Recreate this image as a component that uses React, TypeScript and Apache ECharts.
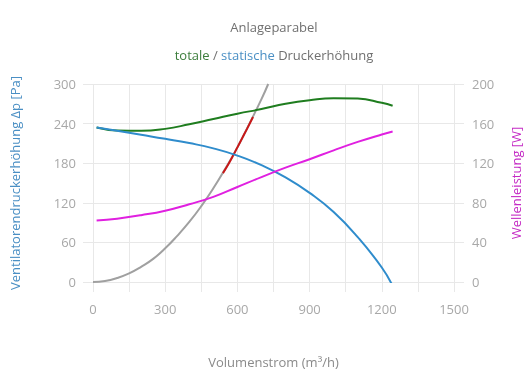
import React, { useEffect, useRef } from "react";
import * as echarts from "echarts";

const FONT = "'Open Sans', 'Noto Sans', sans-serif";

// Volumenstrom (m³/h)
const flowX = [15, 100, 200, 300, 400, 500, 600, 700, 800, 900, 1000, 1100, 1200, 1245];
// statische Druckerhöhung (Pa)
const staticY = [234, 229, 223, 217, 210.5, 202.5, 191.5, 177, 158.5, 135, 106, 68, 22, -6];
// totale Druckerhöhung (Pa)
const totalY = [234, 229.5, 229, 232, 239, 247, 255, 262, 270, 275.5, 278.5, 278, 271.5, 267];
// Wellenleistung (W)
const powerY = [62, 64, 67.5, 72, 78.5, 86, 96, 106, 115.5, 124, 133, 141.5, 149, 152];

// Anlageparabel
const systemX = [0, 50, 100, 150, 200, 250, 300, 350, 400, 450, 500, 550, 600, 650, 700, 728];
const systemY = [0, 1.5, 6, 13, 23, 35, 51, 70, 91, 115, 142, 172, 204, 240, 277, 300];

// Arbeitsbereich (rot)
const rangeX = [540, 560, 580, 600, 620, 640, 665];
const rangeY = [165, 177, 190, 204, 218, 232, 250];

const xTicks = [0, 300, 600, 900, 1200, 1500];

const pairs = (xs: number[], ys: number[]) => xs.map((x, i) => [x, ys[i]]);

export default function App() {
  const ref = useRef<HTMLDivElement>(null);
  useEffect(() => {
    if (!ref.current) return;
    const chart = echarts.init(ref.current, undefined, { renderer: "svg" });
    const grid = "#e8e8e8";
    const label = "#a8a8a8";
    const lineBase = {
      type: "line",
      smooth: 0.5,
      showSymbol: false,
    };
    chart.setOption({
      animation: false,
      textStyle: { fontFamily: FONT },
      graphic: [
        {
          type: "text",
          x: 274,
          y: 27,
          style: {
            text: "Anlageparabel",
            fill: "#707070",
            font: `13px ${FONT}`,
            align: "center",
            verticalAlign: "middle",
          },
        },
        {
          type: "text",
          x: 274,
          y: 55,
          style: {
            text: "{g|totale} / {b|statische} Druckerhöhung",
            fill: "#707070",
            font: `13px ${FONT}`,
            align: "center",
            verticalAlign: "middle",
            rich: {
              g: { fill: "#3c7d3c", font: `13px ${FONT}` },
              b: { fill: "#4a8fc4", font: `13px ${FONT}` },
            },
          },
        },
      ],
      grid: {
        left: 93,
        right: 76,
        top: 84,
        bottom: 108,
        containLabel: false,
        outerBoundsMode: "none",
      },
      xAxis: {
        type: "value",
        min: 0,
        max: 1500,
        interval: 150,
        name: "Volumenstrom (m³/h)",
        nameLocation: "middle",
        nameGap: 73,
        nameTextStyle: { color: "#8a8a8a", fontSize: 13, fontFamily: FONT },
        axisLine: { show: true, lineStyle: { color: grid } },
        axisTick: { show: true, length: 10, lineStyle: { color: grid } },
        splitLine: { show: true, lineStyle: { color: grid } },
        axisLabel: {
          color: label,
          fontSize: 13,
          margin: 20,
          fontFamily: FONT,
          formatter: (v: number) => (xTicks.includes(v) ? String(v) : ""),
        },
      },
      yAxis: [
        {
          type: "value",
          min: 0,
          max: 300,
          interval: 60,
          position: "left",
          name: "Ventilatorendruckerhöhung Δp [Pa]",
          nameLocation: "middle",
          nameRotate: 90,
          nameGap: 72,
          nameTextStyle: { color: "#4a8fc4", fontSize: 13, fontFamily: FONT },
          axisLine: { show: false },
          axisTick: { show: true, length: 10, lineStyle: { color: grid } },
          splitLine: { show: true, lineStyle: { color: grid } },
          axisLabel: { color: label, fontSize: 13, margin: 17, fontFamily: FONT },
        },
        {
          type: "value",
          min: 0,
          max: 200,
          interval: 40,
          position: "right",
          name: "Wellenleistung [W]",
          nameLocation: "middle",
          nameRotate: 90,
          nameGap: 55,
          nameTextStyle: { color: "#c42ac4", fontSize: 13, fontFamily: FONT },
          axisLine: { show: true, lineStyle: { color: grid } },
          axisTick: { show: true, length: 10, lineStyle: { color: grid } },
          splitLine: { show: false },
          axisLabel: { color: label, fontSize: 13, margin: 18, fontFamily: FONT },
        },
      ],
      series: [
        {
          ...lineBase,
          name: "Anlageparabel",
          data: pairs(systemX, systemY),
          lineStyle: { color: "#a0a0a0", width: 2 },
          z: 2,
        },
        {
          ...lineBase,
          name: "Arbeitsbereich",
          data: pairs(rangeX, rangeY),
          lineStyle: { color: "#c81818", width: 2 },
          z: 3,
        },
        {
          ...lineBase,
          name: "totale Druckerhöhung",
          data: pairs(flowX, totalY),
          lineStyle: { color: "#1f7d1f", width: 2 },
          z: 4,
        },
        {
          ...lineBase,
          name: "statische Druckerhöhung",
          data: pairs(flowX, staticY),
          lineStyle: { color: "#2f8ccc", width: 2 },
          z: 5,
        },
        {
          ...lineBase,
          name: "Wellenleistung",
          yAxisIndex: 1,
          data: pairs(flowX, powerY),
          lineStyle: { color: "#e020e0", width: 2 },
          z: 6,
        },
      ],
    });
    return () => chart.dispose();
  }, []);
  return (
    <div
      ref={ref}
      style={{ position: "fixed", left: 0, top: 0, width: 530, height: 390 }}
    />
  );
}
